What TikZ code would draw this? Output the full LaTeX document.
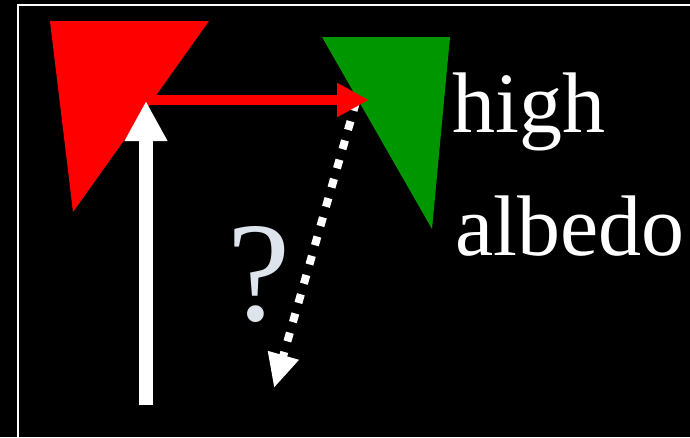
\documentclass[tikz,border=0pt]{standalone}
\usepackage{fontspec}
\setmainfont{Liberation Serif}
\usetikzlibrary{arrows.meta,positioning}
\definecolor{albred}{HTML}{FF0000}
\definecolor{albgreen}{HTML}{009600}
\definecolor{qgray}{HTML}{DEE4EB}

\begin{document}
\begin{tikzpicture}[x=1pt,y=-1pt,
  lbl/.style={text=white,inner sep=0pt,anchor=base west,font=\fontsize{86}{100}\selectfont},
  uparrow/.style={draw=white,line width=14pt,-{Triangle[length=40pt,width=40pt]}},
  rayarrow/.style={draw=albred,line width=10pt,-{Triangle[length=32pt,width=32pt]}},
  backarrow/.style={draw=white,line width=8pt,dash pattern=on 9pt off 11pt,
             -{Triangle[length=34pt,width=30pt]}}]
\fill[black] (0,0) rectangle (690,437);
\useasboundingbox (0,0) rectangle (690,437);
\draw[white,line width=2pt] (18,437) -- (18,5) -- (690,5);
% surfaces
\fill[albgreen] (322,37) -- (450,37) -- (432,229) -- cycle;
\fill[albred] (50,21) -- (209,21) -- (73,212) -- cycle;
\coordinate (src) at (146,405);
\coordinate (hit) at (146,101);
\coordinate (ray) at (146,100);
\coordinate (grn) at (369,100);
\coordinate (bk0) at (356,102);
\coordinate (bk1) at (274,388);
\draw[backarrow] (bk0) -- (bk1);
\draw[rayarrow] (ray) -- (grn);
\draw[uparrow] (src) -- (hit);
\node[lbl] (high) at (452,132) {high};
\node[lbl] (albedo) at (455,255) {albedo};
\node[text=qgray,inner sep=0pt,anchor=base west,font=\fontsize{142}{150}\selectfont]
  (quest) at (227,320) {?};
\end{tikzpicture}
\end{document}
